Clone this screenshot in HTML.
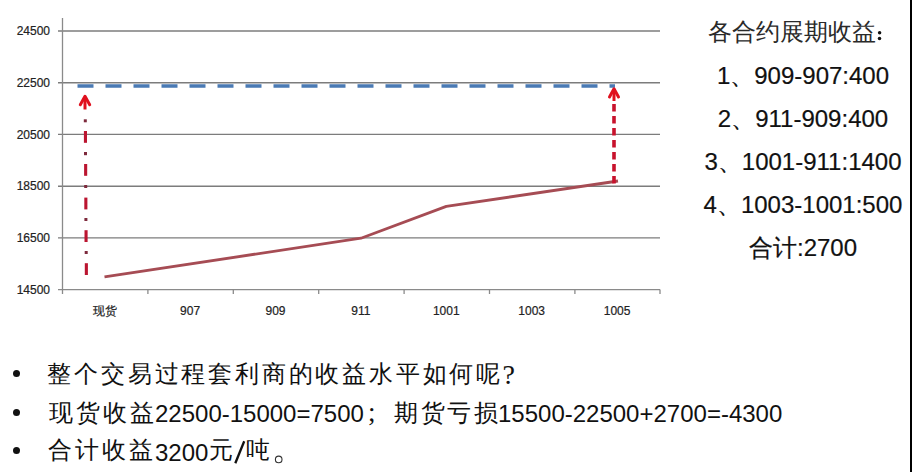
<!DOCTYPE html>
<html><head><meta charset="utf-8">
<style>
html,body{margin:0;padding:0;background:#fff;}
body{width:912px;height:472px;position:relative;overflow:hidden;font-family:"Liberation Sans",sans-serif;color:#111;}
.t{position:absolute;white-space:nowrap;line-height:1;}
.yl{position:absolute;right:862px;font-size:12px;color:#222;-webkit-text-stroke:0.2px #222;line-height:1;text-align:right;}
.xl{position:absolute;font-size:12px;color:#222;-webkit-text-stroke:0.2px #222;line-height:1;width:80px;text-align:center;}
.r{position:absolute;font-size:24px;color:#111;-webkit-text-stroke:0.2px #111;line-height:1;white-space:nowrap;width:300px;left:653px;text-align:center;}
.b{position:absolute;left:48px;font-size:24px;color:#111;line-height:1;white-space:nowrap;}
.dot{position:absolute;width:7px;height:7px;border-radius:50%;background:#111;}
</style></head><body>
<svg width="912" height="472" style="position:absolute;left:0;top:0">
  <!-- gridlines -->
  <g stroke="#7c7c7c" stroke-width="1.4">
    <line x1="58" y1="31" x2="660" y2="31"/>
    <line x1="58" y1="82.7" x2="660" y2="82.7"/>
    <line x1="58" y1="134.4" x2="660" y2="134.4"/>
    <line x1="58" y1="186.2" x2="660" y2="186.2"/>
    <line x1="58" y1="237.9" x2="660" y2="237.9"/>
  </g>
  <g stroke="#8a8a8a" stroke-width="1.3">
    <line x1="58" y1="289.6" x2="660" y2="289.6"/>
    <line x1="62.5" y1="18" x2="62.5" y2="294"/>
    <line x1="147.9" y1="289.6" x2="147.9" y2="294"/>
    <line x1="233.3" y1="289.6" x2="233.3" y2="294"/>
    <line x1="318.7" y1="289.6" x2="318.7" y2="294"/>
    <line x1="404.1" y1="289.6" x2="404.1" y2="294"/>
    <line x1="489.5" y1="289.6" x2="489.5" y2="294"/>
    <line x1="574.9" y1="289.6" x2="574.9" y2="294"/>
    <line x1="660" y1="289.6" x2="660" y2="294"/>
  </g>
  <!-- data line -->
  <polyline points="104.5,276.8 361,238.2 446.3,206.4 618,181" fill="none" stroke="#a64c54" stroke-width="2.8" stroke-linejoin="round"/>
  <!-- blue dashed -->
  <line x1="77.5" y1="86" x2="615" y2="86" stroke="#4a7ab4" stroke-width="3.6" stroke-dasharray="16 12"/>
  <!-- left red dash-dot -->
  <g fill="#bb1530">
    <rect x="83.9" y="131" width="3.1" height="11.8"/>
    <rect x="84.1" y="164" width="3.1" height="11.8"/>
    <rect x="84.3" y="197.6" width="3.1" height="11.8"/>
    <rect x="84.5" y="230.2" width="3.1" height="11.8"/>
    <rect x="84.8" y="263.2" width="3.1" height="11.8"/>
  </g>
  <g fill="#7d2a3c">
    <rect x="83.8" y="119.3" width="3" height="3"/>
    <rect x="84" y="152" width="3" height="3.2"/>
    <rect x="84.2" y="185" width="3" height="3"/>
    <rect x="84.4" y="218" width="3" height="3"/>
    <rect x="84.7" y="251" width="3" height="3"/>
  </g>
  <path d="M85,97 L85,109.5" stroke="#e0101e" stroke-width="3" fill="none"/>
  <path d="M80.3,104.8 L85,96.3 L89.7,104.8" stroke="#e0101e" stroke-width="3" fill="none" stroke-linecap="round" stroke-linejoin="round"/>
  <!-- right red dashed -->
  <line x1="614" y1="104" x2="614" y2="184" stroke="#c8122c" stroke-width="3.6" stroke-dasharray="7.5 4.5"/>
  <path d="M614,89 L614,101" stroke="#e0101e" stroke-width="3" fill="none"/>
  <path d="M609.5,97 L614,88.7 L618.5,97" stroke="#e0101e" stroke-width="3" fill="none" stroke-linecap="round" stroke-linejoin="round"/>
  <line x1="235.3" y1="463.3" x2="244.2" y2="441.2" stroke="#111" stroke-width="2.3"/>
  <circle cx="278.7" cy="459.4" r="3.3" fill="none" stroke="#333" stroke-width="1.1"/>
  <circle cx="879.6" cy="32.8" r="1.75" fill="#111"/>
  <circle cx="879.5" cy="38.6" r="1.75" fill="#111"/>
  <!-- right border -->
  <rect x="910" y="0" width="2" height="472" fill="#000"/>
</svg>
<div class="yl" style="top:25.2px">24500</div>
<div class="yl" style="top:76.9px">22500</div>
<div class="yl" style="top:128.6px">20500</div>
<div class="yl" style="top:180.4px">18500</div>
<div class="yl" style="top:232.1px">16500</div>
<div class="yl" style="top:283.8px">14500</div>

<div class="xl" style="left:64.7px;top:305px">现货</div>
<div class="xl" style="left:150.1px;top:305px">907</div>
<div class="xl" style="left:235.5px;top:305px">909</div>
<div class="xl" style="left:320.9px;top:305px">911</div>
<div class="xl" style="left:406.3px;top:305px">1001</div>
<div class="xl" style="left:491.7px;top:305px">1003</div>
<div class="xl" style="left:577.1px;top:305px">1005</div>

<div class="t" style="left:707.5px;top:19.5px;font-size:24px;color:#2a2a2a">各合约展期收益</div>
<div class="r" style="top:64px">1、909-907:400</div>
<div class="r" style="top:107px">2、911-909:400</div>
<div class="r" style="top:150px">3、1001-911:1400</div>
<div class="r" style="top:193px">4、1003-1001:500</div>
<div class="r" style="top:236px">合计:2700</div>

<div class="dot" style="left:12.7px;top:369.8px"></div>
<div class="dot" style="left:12.5px;top:408.9px"></div>
<div class="dot" style="left:12.5px;top:446.6px"></div>
<div class="b" style="left:47.4px;top:362px;letter-spacing:2.8px">整个交易过程套利商的收益水平如何呢</div>
<div class="b" style="left:502.5px;top:361px;font-size:28px;font-family:'Liberation Serif',serif">?</div>
<div class="b" style="left:49px;top:400.5px;letter-spacing:2.9px">现货收益</div>
<div class="b" style="left:155px;top:402px">22500-15000=7500</div>
<div class="b" style="left:368px;top:399px;font-size:27px;font-family:'Liberation Serif',serif">;</div>
<div class="b" style="left:394px;top:400.5px;letter-spacing:2.6px">期货亏损</div>
<div class="b" style="left:498px;top:402px">15500-22500+2700=-4300</div>
<div class="b" style="left:48px;top:438.3px;letter-spacing:2.9px">合计收益</div>
<div class="b" style="left:155px;top:440.5px">3200</div>
<div class="b" style="left:209px;top:438.3px">元</div>

<div class="b" style="left:246px;top:438.3px">吨</div>

</body></html>
